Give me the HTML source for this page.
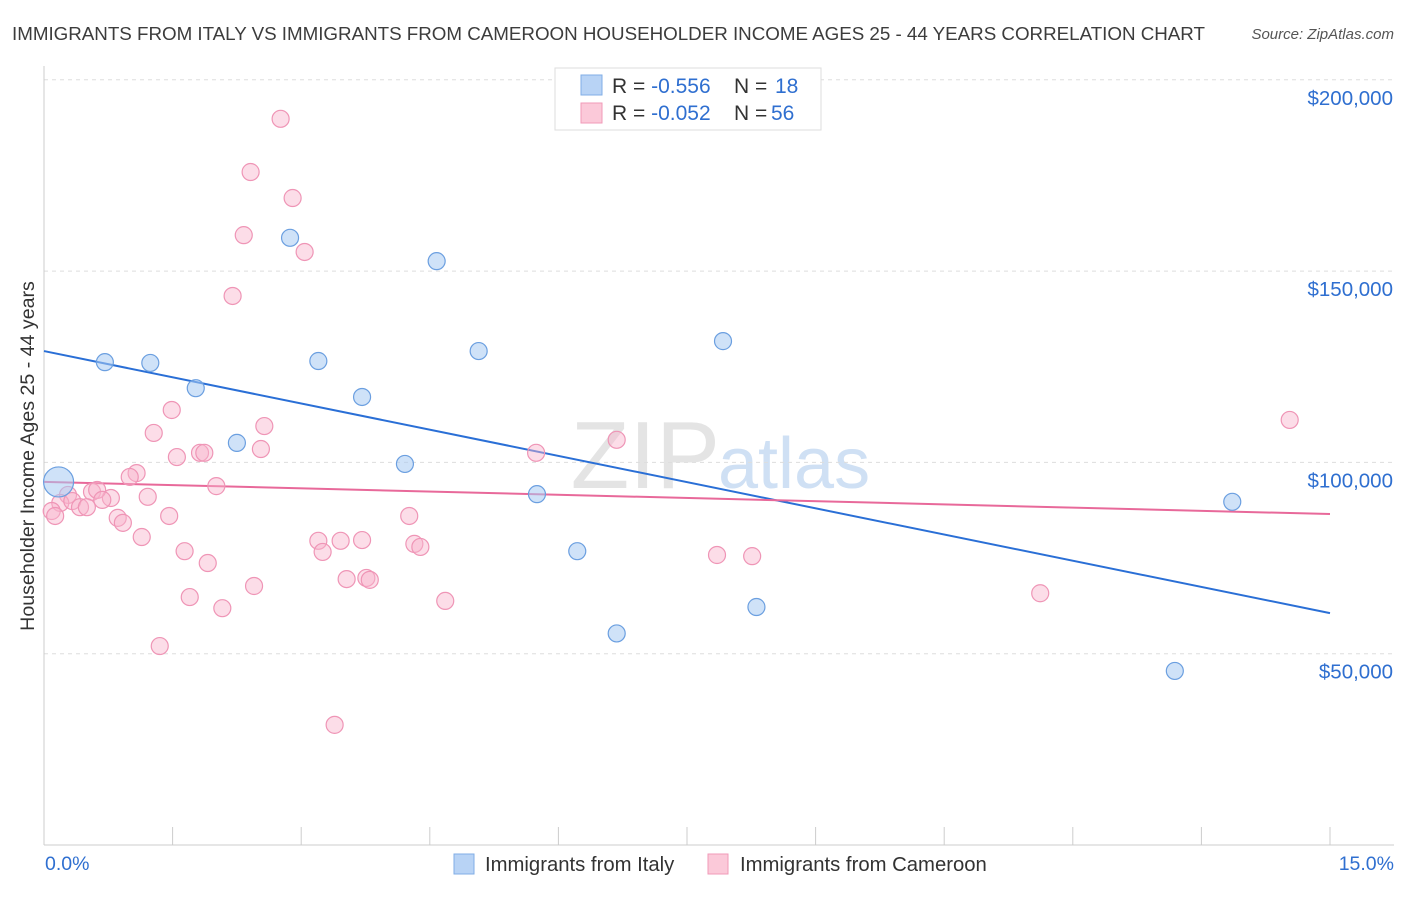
<!DOCTYPE html>
<html><head><meta charset="utf-8">
<style>
html,body{margin:0;padding:0;background:#fff;}
body{width:1406px;height:892px;overflow:hidden;font-family:"Liberation Sans",sans-serif;}
svg text{font-family:"Liberation Sans",sans-serif;}
</style></head>
<body>
<svg id="chart" width="1406" height="892">
  <text x="12" y="40" font-size="18.8" fill="#3c3c3c" textLength="1193">IMMIGRANTS FROM ITALY VS IMMIGRANTS FROM CAMEROON HOUSEHOLDER INCOME AGES 25 - 44 YEARS CORRELATION CHART</text>
  <text x="1394" y="39" font-size="15" font-style="italic" fill="#555" text-anchor="end">Source: ZipAtlas.com</text>
  <text x="720" y="488" font-size="96" font-family="Liberation Serif" fill="#e4e4e4" text-anchor="end">ZIP</text>
  <text x="718" y="488" font-size="72" fill="#cfe0f4">atlas</text>
  <g id="grid"></g>
  <g id="axes"></g>
  <g id="lines"></g>
  <g id="pink"></g>
  <g id="blue"></g>
  <text transform="translate(34,456) rotate(-90)" font-size="19.6" fill="#333" text-anchor="middle">Householder Income Ages 25 - 44 years</text>
  <g>
    <rect x="555" y="68" width="266" height="62" fill="#fff" stroke="#ddd"/>
    <rect x="581" y="75" width="21" height="20" fill="#b8d3f5" stroke="#80aee6"/>
    <rect x="581" y="103" width="21" height="20" fill="#fbc9d9" stroke="#f09ab8"/>
    <text x="612" y="93" font-size="21" fill="#333">R = <tspan fill="#2f6fd0">-0.556</tspan><tspan x="734">N = </tspan><tspan x="775" fill="#2f6fd0">18</tspan></text>
    <text x="612" y="120" font-size="21" fill="#333">R = <tspan fill="#2f6fd0">-0.052</tspan><tspan x="734">N = </tspan><tspan x="771" fill="#2f6fd0">56</tspan></text>
  </g>
  <g>
    <rect x="454" y="854" width="20" height="20" fill="#b8d3f5" stroke="#80aee6"/>
    <text x="485" y="871" font-size="20.3" fill="#333">Immigrants from Italy</text>
    <rect x="708" y="854" width="20" height="20" fill="#fbc9d9" stroke="#f09ab8"/>
    <text x="740" y="871" font-size="20.3" fill="#333">Immigrants from Cameroon</text>
  </g>
  <text x="45" y="870" font-size="19.5" fill="#2f6fd0">0.0%</text>
  <text x="1394" y="870" font-size="19.5" fill="#2f6fd0" text-anchor="end">15.0%</text>
</svg>
<script>
const yTicks=[50000,100000,150000,200000];
const yTickLabels=["$50,000","$100,000","$150,000","$200,000"];
const bluePct=[0.71,1.24,1.77,2.25,2.87,3.20,3.71,4.21,4.58,5.07,5.75,6.22,6.68,7.92,8.31,13.19,13.86,0.17];
const blueVal=[126.2,126.0,119.4,105.1,158.7,126.5,117.1,99.6,152.6,129.1,91.7,76.8,55.3,131.7,62.2,45.5,89.7,94.9];
const blueSize=[1,1,1,1,1,1,1,1,1,1,1,1,1,1,1,1,1,2];
const pinkPct=[2.76,2.41,2.90,2.33,3.04,2.20,1.49,1.28,2.57,2.53,1.55,1.82,1.87,2.01,1.08,1.00,0.78,1.21,0.56,0.62,0.28,0.19,0.33,0.42,0.50,0.68,0.86,0.92,1.46,1.14,1.64,1.91,1.70,2.08,2.45,1.35,3.20,3.25,3.46,3.71,3.53,3.76,3.80,4.26,4.32,4.39,4.68,3.39,5.74,6.68,7.85,8.26,11.62,14.53,0.09,0.13];
const pinkVal=[189.8,175.9,169.1,159.4,155.0,143.5,113.7,107.7,109.5,103.5,101.4,102.5,102.5,93.8,97.2,96.2,90.7,91.0,92.3,92.8,91.5,89.4,89.9,88.3,88.3,90.2,85.5,84.2,86.0,80.5,76.8,73.7,64.8,61.9,67.7,52.0,79.5,76.6,79.5,79.7,69.5,69.8,69.3,86.0,78.7,77.9,63.8,31.4,102.5,105.9,75.8,75.5,65.8,111.1,87.3,86.0];
const blueTrend=[129.1,60.6];
const pinkTrend=[94.9,86.5];

const NS="http://www.w3.org/2000/svg";
const X0=44,X1=1330,Y0=845,PX50K=191.3;
const xs=p=>X0+(X1-X0)*p/15;
const ys=v=>Y0-v/50000*PX50K;
function mk(tag,attrs,parent){const e=document.createElementNS(NS,tag);for(const k in attrs)e.setAttribute(k,attrs[k]);parent.appendChild(e);return e;}
const grid=document.getElementById('grid'),axes=document.getElementById('axes');
yTicks.forEach((t,i)=>{
  const g=mk('line',{x1:X0,x2:1394,y1:ys(t),y2:ys(t),stroke:'#ddd','stroke-dasharray':'4,4'},grid);
  
  
  const tx=mk('text',{x:1393,y:ys(t)+25,'font-size':20.5,fill:'#2f6fd0','text-anchor':'end'},grid);
  tx.textContent=yTickLabels[i];
  
  
});
const ax=mk('line',{x1:X0,x2:X0,y1:66,y2:Y0,stroke:'#ccc'},axes);


const bx=mk('line',{x1:X0,x2:1394,y1:Y0,y2:Y0,stroke:'#ccc'},axes);


for(let i=1;i<=10;i++){
  const t=mk('line',{x1:xs(i*1.5),x2:xs(i*1.5),y1:Y0,y2:Y0-18,stroke:'#ccc'},axes);
  
  
}
const lines=document.getElementById('lines');
const bl=mk('line',{x1:xs(0),y1:ys(blueTrend[0]*1000),x2:xs(15),y2:ys(blueTrend[1]*1000),stroke:'#2a6fd6','stroke-width':2},lines);


const pl=mk('line',{x1:xs(0),y1:ys(pinkTrend[0]*1000),x2:xs(15),y2:ys(pinkTrend[1]*1000),stroke:'#e8699a','stroke-width':2},lines);


const pg=document.getElementById('pink');
pinkPct.forEach((p,i)=>{
  const c=mk('circle',{cx:xs(p),cy:ys(pinkVal[i]*1000),r:8.5,fill:'rgba(248,180,204,0.45)',stroke:'#ef95b6','stroke-width':1.2},pg);
  
  
});
const bg=document.getElementById('blue');
bluePct.forEach((p,i)=>{
  const c=mk('circle',{cx:xs(p),cy:ys(blueVal[i]*1000),r:blueSize[i]>1?15:8.5,fill:'rgba(168,202,242,0.55)',stroke:'#6b9fe0','stroke-width':1.2},bg);
  
  
});
</script>
</body></html>
